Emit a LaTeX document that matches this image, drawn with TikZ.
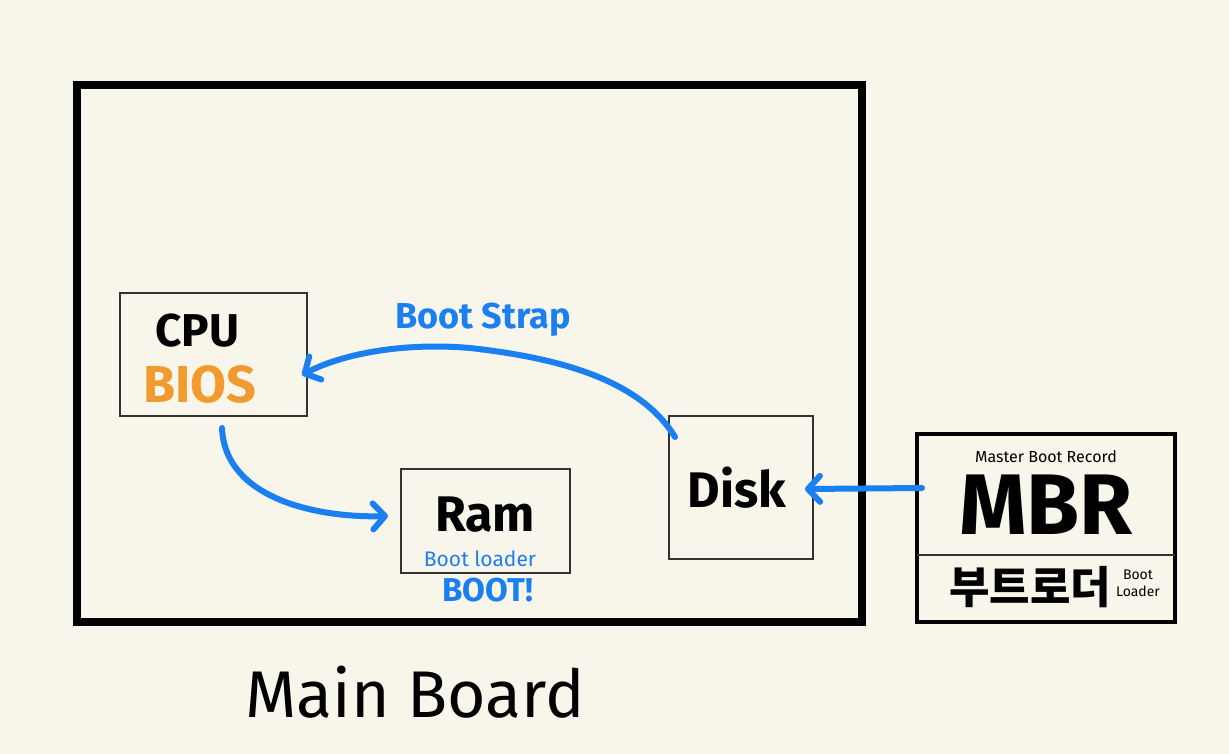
\documentclass[tikz,border=0pt]{standalone}
\usepackage{fontspec}
\setmainfont{Fira Sans}
\newfontfamily\kor{Noto Sans CJK KR}
\usetikzlibrary{arrows.meta}
\definecolor{paper}{HTML}{F8F5EA}
\definecolor{arrowblue}{HTML}{1A7FF0}
\definecolor{biosorange}{HTML}{F09A30}
\definecolor{boxline}{HTML}{333333}
\tikzset{
  fs/.style={font=\fontsize{#1}{#1}\selectfont},
  fsb/.style={font=\bfseries\fontsize{#1}{#1}\selectfont},
  thinbox/.style={draw=boxline, line width=1.6pt, fill=none},
  bluearrow/.style={draw=arrowblue, line width=6pt, line cap=round,
    -{Straight Barb[length=12pt,width=26pt,line width=6pt,round]}},
  lbl/.style={inner sep=0pt, anchor=center}
}
\begin{document}
\begin{tikzpicture}[x=1pt,y=-1pt]
\fill[paper] (0,0) rectangle (1229,754);
\useasboundingbox (0,0) rectangle (1229,754);
% main board
\draw[line width=8pt, black] (77,85) rectangle (862,622);
\node[lbl, fs=66] (mainlbl) at (415,692) {Main Board};
% CPU
\draw[thinbox] (120,293) rectangle (307,416);
\coordinate (cpuR) at (302,375);
\coordinate (cpuB) at (222,428);
\node[lbl, fsb=46] (cpu) at (197,331) {CPU};
\node[lbl, fsb=52, text=biosorange] (bios) at (200,384) {BIOS};
% Ram
\draw[thinbox] (401,469) rectangle (570,573);
\coordinate (ramL) at (388,516);
\node[lbl, fsb=50] (ram) at (485,515) {Ram};
\node[lbl, fs=21, text=arrowblue] (bl) at (480,559) {Boot loader};
\node[lbl, fsb=33, text=arrowblue] (boot) at (488,590) {BOOT!};
% Disk
\draw[thinbox] (669,416) rectangle (813,559);
\coordinate (diskTL) at (675,437);
\coordinate (diskR) at (805,489);
\node[lbl, fsb=50] (disk) at (737,488) {Disk};
% MBR
\draw[line width=4pt, black] (917,434) rectangle (1175,622);
\draw[line width=1.6pt, boxline] (917,555) -- (1175,555);
\coordinate (mbrL) at (922,488);
\node[lbl, fs=16] (master) at (1046,457) {Master Boot Record};
\node[lbl, fsb=86] (mbr) at (1046,505) {MBR};
\node[lbl, font=\kor\bfseries\fontsize{44}{44}\selectfont] (kor) at (1030,587) {부트로더};
\node[lbl, align=center, font=\fontsize{14}{17}\selectfont] (bl2) at (1138,583) {Boot\\Loader};
% Boot strap label
\node[lbl, text=arrowblue, fsb=36] (bs) at (483,320) {Boot Strap};
% arrows
\draw[bluearrow] (diskTL) .. controls (640,380) and (560,358) .. (470,348)
   .. controls (400,342) and (340,355) .. (cpuR);
\draw[bluearrow] (cpuB) .. controls (225,500) and (320,518) .. (ramL);
\draw[bluearrow] (mbrL) -- (diskR);
\end{tikzpicture}
\end{document}
